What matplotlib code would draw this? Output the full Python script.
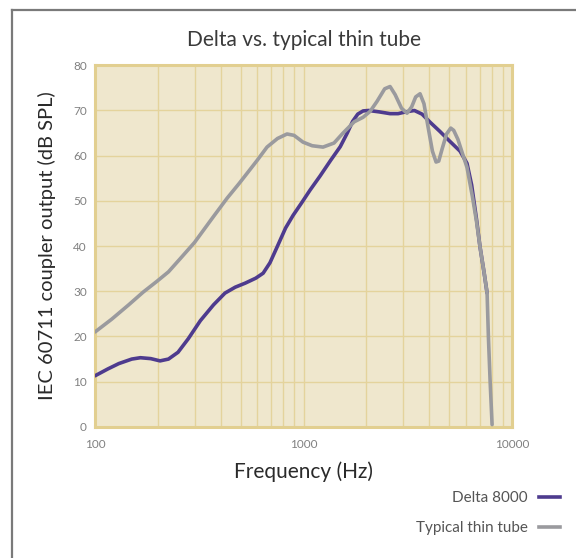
import matplotlib
matplotlib.use('Agg')
import matplotlib.pyplot as plt
from matplotlib.lines import Line2D
from matplotlib.ticker import FixedLocator, NullFormatter, LogLocator

plt.rcParams['font.family'] = ['Lato', 'DejaVu Sans']

# Delta 8000 response (Hz, dB SPL)
delta_freq = [100, 115, 130, 150, 165, 185, 205, 225, 250, 280, 320, 370, 420,
              470, 525, 590, 640, 690, 750, 820, 891, 980, 1075, 1200, 1350,
              1500, 1620, 1720, 1820, 1930, 2050, 2300, 2600, 2840, 3100, 3400,
              3700, 4045, 4500, 5000, 5630, 6080, 6400, 6750, 7020, 7350, 7590]
delta_db = [11.3, 12.8, 14.0, 15.0, 15.3, 15.1, 14.6, 15.0, 16.5, 19.5, 23.5,
            27.0, 29.6, 30.9, 31.8, 32.9, 34.0, 36.3, 40.0, 44.0, 46.8, 49.6,
            52.4, 55.5, 59.0, 62.0, 65.0, 67.6, 69.2, 69.9, 70.0, 69.7, 69.3,
            69.3, 69.7, 70.0, 69.2, 67.4, 65.4, 63.3, 61.0, 58.3, 53.5, 46.0,
            39.8, 34.0, 29.6]

# typical thin tube
tube_freq = [100, 120, 145, 170, 198, 225, 256, 300, 368, 430, 490, 536, 600,
             668, 750, 833, 900, 994, 1100, 1240, 1400, 1546, 1750, 1930, 2085,
             2250, 2450, 2600, 2750, 2950, 3135, 3300, 3450, 3620, 3780, 3950,
             4150, 4320, 4450, 4620, 4850, 5080, 5250, 5500, 5800, 6080, 6450,
             6750, 7020, 7350, 7590, 7700, 7850, 8020]
tube_db = [21.0, 23.8, 27.0, 29.8, 32.2, 34.3, 37.2, 40.8, 46.4, 50.6, 53.8,
           56.1, 59.0, 61.9, 63.8, 64.8, 64.5, 63.0, 62.2, 61.9, 62.8, 65.0,
           67.5, 68.5, 69.8, 72.0, 74.8, 75.3, 73.5, 70.5, 69.4, 70.8, 73.0,
           73.7, 71.5, 66.5, 61.0, 58.6, 58.8, 61.5, 64.8, 66.1, 65.6, 63.6,
           60.3, 57.4, 51.0, 45.5, 39.8, 34.0, 29.6, 20.0, 10.0, 0.5]

x_ticks = [100, 1000, 10000]
x_tick_labels = ['100', '1000', '10000']
y_ticks = [0, 10, 20, 30, 40, 50, 60, 70, 80]

purple = '#4e3b8e'
grey = '#9a9a9e'
tan = '#e4d39c'

fig = plt.figure(figsize=(5.76, 5.58), dpi=100)
ax = fig.add_axes([0.165, 0.235, 0.724, 0.648])
ax.set_facecolor('#efe7cd')

ax.plot(delta_freq, delta_db, color=purple, lw=2.6, solid_capstyle='round',
        solid_joinstyle='round', zorder=3)
ax.plot(tube_freq, tube_db, color=grey, lw=2.6, solid_capstyle='round',
        solid_joinstyle='round', zorder=4)

ax.set_xscale('log')
ax.set_xlim(100, 10000)
ax.set_ylim(0, 80)
ax.xaxis.set_major_locator(FixedLocator(x_ticks))
ax.set_xticklabels(x_tick_labels)
ax.xaxis.set_minor_locator(LogLocator(base=10, subs=range(2, 10)))
ax.xaxis.set_minor_formatter(NullFormatter())
ax.set_yticks(y_ticks)
ax.grid(True, which='both', axis='x', color=tan, lw=1)
ax.grid(True, which='major', axis='y', color=tan, lw=1)
ax.tick_params(which='both', length=0, labelsize=8.5, labelcolor='#808080')
ax.tick_params(axis='x', pad=9)
ax.tick_params(axis='y', pad=6)
for s in ax.spines.values():
    s.set_color('#e2cf90')
    s.set_linewidth(2.2)

ax.set_title('Delta vs. typical thin tube', fontsize=15, color='#3a3a3a', pad=14)
ax.set_xlabel('Frequency (Hz)', fontsize=15, color='#2a2a2a', labelpad=8)
ax.set_ylabel('IEC 60711 coupler output (dB SPL)', fontsize=14.5, color='#2a2a2a',
              labelpad=12)

# legend drawn by hand at lower right
fig.text(0.916, 0.108, 'Delta 8000', ha='right', va='center', fontsize=11,
         color='#555555')
fig.text(0.916, 0.054, 'Typical thin tube', ha='right', va='center', fontsize=11,
         color='#555555')
fig.add_artist(Line2D([0.935, 0.973], [0.110, 0.110], color=purple, lw=2.6))
fig.add_artist(Line2D([0.935, 0.973], [0.056, 0.056], color=grey, lw=2.6))

# frame at top and left
fig.add_artist(Line2D([0.021, 1.0], [0.982, 0.982], color='#7a7a7a', lw=1.6))
fig.add_artist(Line2D([0.021, 0.021], [0.0, 0.982], color='#7a7a7a', lw=1.6))

fig.savefig('out.png', dpi=100)
